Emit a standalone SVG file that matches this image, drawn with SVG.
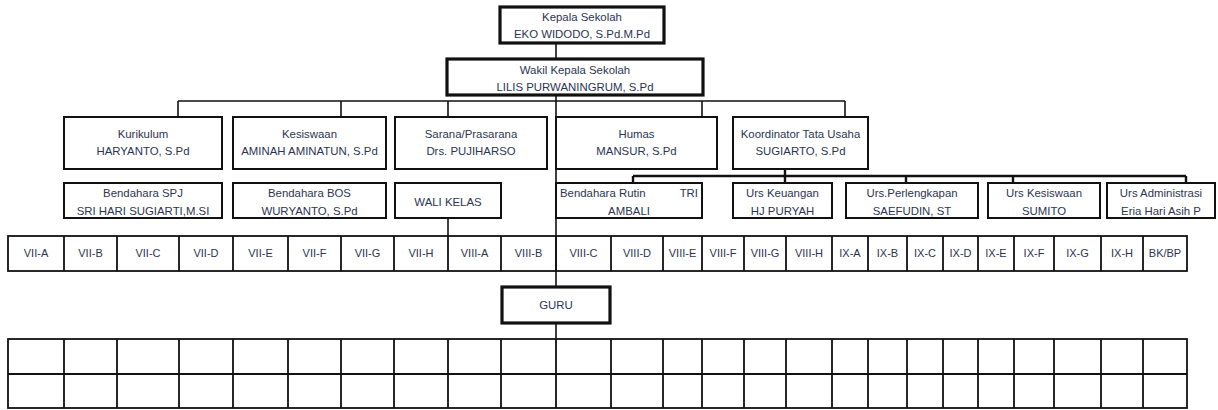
<svg xmlns="http://www.w3.org/2000/svg" width="1218" height="410" viewBox="0 0 1218 410">
<style>
.b{fill:#fff;stroke:#111;stroke-width:2}
.bt{fill:#fff;stroke:#111;stroke-width:3.2}
.c{fill:none;stroke:#111;stroke-width:1.6}
.ct{fill:none;stroke:#111;stroke-width:2.4}
text{font-family:"Liberation Sans",Arial,sans-serif;font-size:11.4px;fill:#2c3450;text-anchor:middle}
.k text{font-size:11px}
.g{fill:none;stroke:#111;stroke-width:1.8}
</style>
<rect width="1218" height="410" fill="#fff"/>
<g id="connectors">
<path class="c" d="M556 43V59"/>
<path class="c" d="M556 95V287M556 323V339"/>
<path class="c" d="M178 101H845M178 101V117M341 101V117M448 101V117M702 101V117M845 101V117"/>
<path class="ct" d="M633 176H1186M785 169V183M633 176V183M906 176V183M1013 176V183M1186 176V183"/>
<path class="c" d="M448 218V236"/>
</g>
<g id="kepala"><rect class="bt" x="500" y="7" width="164" height="36"/><text x="582" y="21">Kepala Sekolah</text><text x="582" y="38">EKO WIDODO, S.Pd.M.Pd</text></g>
<g id="wakil"><rect class="bt" x="447" y="59" width="256" height="36"/><text x="575" y="74">Wakil Kepala Sekolah</text><text x="575" y="91">LILIS PURWANINGRUM, S.Pd</text></g>
<g id="kurikulum"><rect class="b" x="64" y="117" width="158" height="52"/><text x="143" y="138">Kurikulum</text><text x="143" y="155">HARYANTO, S.Pd</text></g>
<g id="kesiswaan"><rect class="b" x="233" y="117" width="153" height="52"/><text x="309.5" y="138">Kesiswaan</text><text x="309.5" y="155">AMINAH AMINATUN, S.Pd</text></g>
<g id="sarana"><rect class="b" x="395" y="117" width="152" height="52"/><text x="471" y="138">Sarana/Prasarana</text><text x="471" y="155">Drs. PUJIHARSO</text></g>
<g id="humas"><rect class="b" x="556" y="117" width="161" height="52"/><text x="636.5" y="138">Humas</text><text x="636.5" y="155">MANSUR, S.Pd</text></g>
<g id="koordinator"><rect class="b" x="733" y="117" width="135" height="52"/><text x="800.5" y="138">Koordinator Tata Usaha</text><text x="800.5" y="155">SUGIARTO, S.Pd</text></g>
<g id="bendahara-spj"><rect class="b" x="64" y="183" width="158" height="35"/><text x="143" y="197">Bendahara SPJ</text><text x="143" y="215">SRI HARI SUGIARTI,M.SI</text></g>
<g id="bendahara-bos"><rect class="b" x="233" y="183" width="153" height="35"/><text x="309.5" y="196.5">Bendahara BOS</text><text x="309.5" y="215">WURYANTO, S.Pd</text></g>
<g id="wali-kelas"><rect class="b" x="395" y="183" width="106" height="35"/><text x="448" y="206">WALI KELAS</text></g>
<g id="bendahara-rutin"><rect class="b" x="556" y="183" width="146" height="35"/><text x="560" y="196.5" style="text-anchor:start">Bendahara Rutin</text><text x="698" y="196.5" style="text-anchor:end">TRI</text><text x="629" y="215">AMBALI</text></g>
<g id="urs-keuangan"><rect class="b" x="733" y="183" width="99" height="35"/><text x="782.5" y="196.5">Urs Keuangan</text><text x="782.5" y="215">HJ PURYAH</text></g>
<g id="urs-perlengkapan"><rect class="b" x="846" y="183" width="132" height="35"/><text x="912" y="196.5">Urs.Perlengkapan</text><text x="912" y="215">SAEFUDIN, ST</text></g>
<g id="urs-kesiswaan"><rect class="b" x="988" y="183" width="112" height="35"/><text x="1044" y="196.5">Urs Kesiswaan</text><text x="1044" y="215">SUMITO</text></g>
<g id="urs-administrasi"><rect class="b" x="1107" y="183" width="108" height="35"/><text x="1161" y="196.5">Urs Administrasi</text><text x="1161" y="215">Eria Hari Asih P</text></g>
<g id="kelas" class="k">
<rect class="g" x="8" y="236" width="1179" height="35"/>
<path class="g" d="M64 236v35M117 236v35M179 236v35M233 236v35M288 236v35M341 236v35M394 236v35M448 236v35M501 236v35M556 236v35M611 236v35M663 236v35M702 236v35M744 236v35M786 236v35M832 236v35M868 236v35M907 236v35M943 236v35M978 236v35M1014 236v35M1054 236v35M1101 236v35M1143 236v35"/>
<text x="36" y="257">VII-A</text><text x="90.5" y="257">VII-B</text><text x="148" y="257">VII-C</text><text x="206" y="257">VII-D</text><text x="260.5" y="257">VII-E</text><text x="314.5" y="257">VII-F</text><text x="367.5" y="257">VII-G</text><text x="421" y="257">VII-H</text><text x="474.5" y="257">VIII-A</text><text x="528.5" y="257">VIII-B</text><text x="583.5" y="257">VIII-C</text><text x="637" y="257">VIII-D</text><text x="682.5" y="257">VIII-E</text><text x="723" y="257">VIII-F</text><text x="765" y="257">VIII-G</text><text x="809" y="257">VIII-H</text><text x="850" y="257">IX-A</text><text x="887.5" y="257">IX-B</text><text x="925" y="257">IX-C</text><text x="960.5" y="257">IX-D</text><text x="996" y="257">IX-E</text><text x="1034" y="257">IX-F</text><text x="1077.5" y="257">IX-G</text><text x="1122" y="257">IX-H</text><text x="1165" y="257">BK/BP</text>
</g>
<g id="guru"><rect class="bt" x="502" y="287" width="108" height="36"/><text x="556" y="309">GURU</text></g>
<g id="tabel-guru">
<rect class="g" x="8" y="339" width="1179" height="69"/>
<path class="g" d="M8 374H1187M64 339v69M117 339v69M179 339v69M233 339v69M288 339v69M341 339v69M394 339v69M448 339v69M501 339v69M556 339v69M611 339v69M663 339v69M702 339v69M744 339v69M786 339v69M832 339v69M868 339v69M907 339v69M943 339v69M978 339v69M1014 339v69M1054 339v69M1101 339v69M1143 339v69"/>
</g>
</svg>
